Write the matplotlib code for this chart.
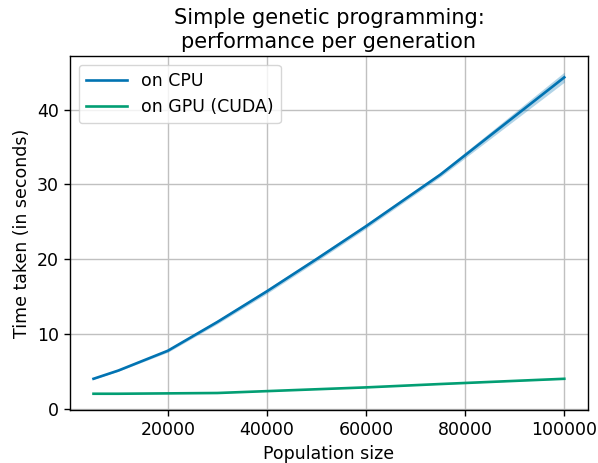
import numpy as np
import matplotlib
matplotlib.use("Agg")
import matplotlib.pyplot as plt

# population sizes tested
population = [5000, 10000, 20000, 30000, 40000, 50000, 60000, 75000, 100000]

# mean time per generation (seconds)
cpu_time = [4.0, 5.1, 7.75, 11.6, 15.7, 20.0, 24.4, 31.3, 44.3]
cpu_low = [3.93, 5.0, 7.55, 11.35, 15.4, 19.7, 24.1, 31.0, 43.65]
cpu_high = [4.07, 5.2, 7.95, 11.85, 16.0, 20.3, 24.7, 31.6, 45.0]

gpu_time = [2.0, 2.0, 2.05, 2.1, 2.35, 2.6, 2.85, 3.3, 4.0]
gpu_low = [1.98, 1.98, 2.03, 2.08, 2.33, 2.58, 2.83, 3.27, 3.96]
gpu_high = [2.02, 2.02, 2.07, 2.12, 2.37, 2.62, 2.87, 3.33, 4.04]

CPU_COLOR = "#0173b2"
GPU_COLOR = "#029e73"

fig, ax = plt.subplots(figsize=(5.98, 4.63), dpi=100)
fig.subplots_adjust(left=0.117, right=0.983, top=0.879, bottom=0.1145)

ax.plot(population, cpu_time, color=CPU_COLOR, lw=1.9, label="on CPU")
ax.fill_between(population, cpu_low, cpu_high, color=CPU_COLOR, alpha=0.3, lw=0)
ax.plot(population, gpu_time, color=GPU_COLOR, lw=1.9, label="on GPU (CUDA)")
ax.fill_between(population, gpu_low, gpu_high, color=GPU_COLOR, alpha=0.3, lw=0)

ax.set_xticks([20000, 40000, 60000, 80000, 100000])
ax.set_yticks([0, 10, 20, 30, 40])
ax.tick_params(labelsize=12.5, width=1, length=4.5)
for spine in ax.spines.values():
    spine.set_linewidth(1)
ax.grid(True, color="#c0c0c0", lw=1)
ax.set_axisbelow(True)

ax.set_title("Simple genetic programming:\nperformance per generation", fontsize=15)
ax.set_xlabel("Population size", fontsize=12.5)
ax.set_ylabel("Time taken (in seconds)", fontsize=12.5)
ax.legend(loc="upper left", fontsize=12.5, handlelength=2.4)

plt.savefig("out.png", dpi=100)
